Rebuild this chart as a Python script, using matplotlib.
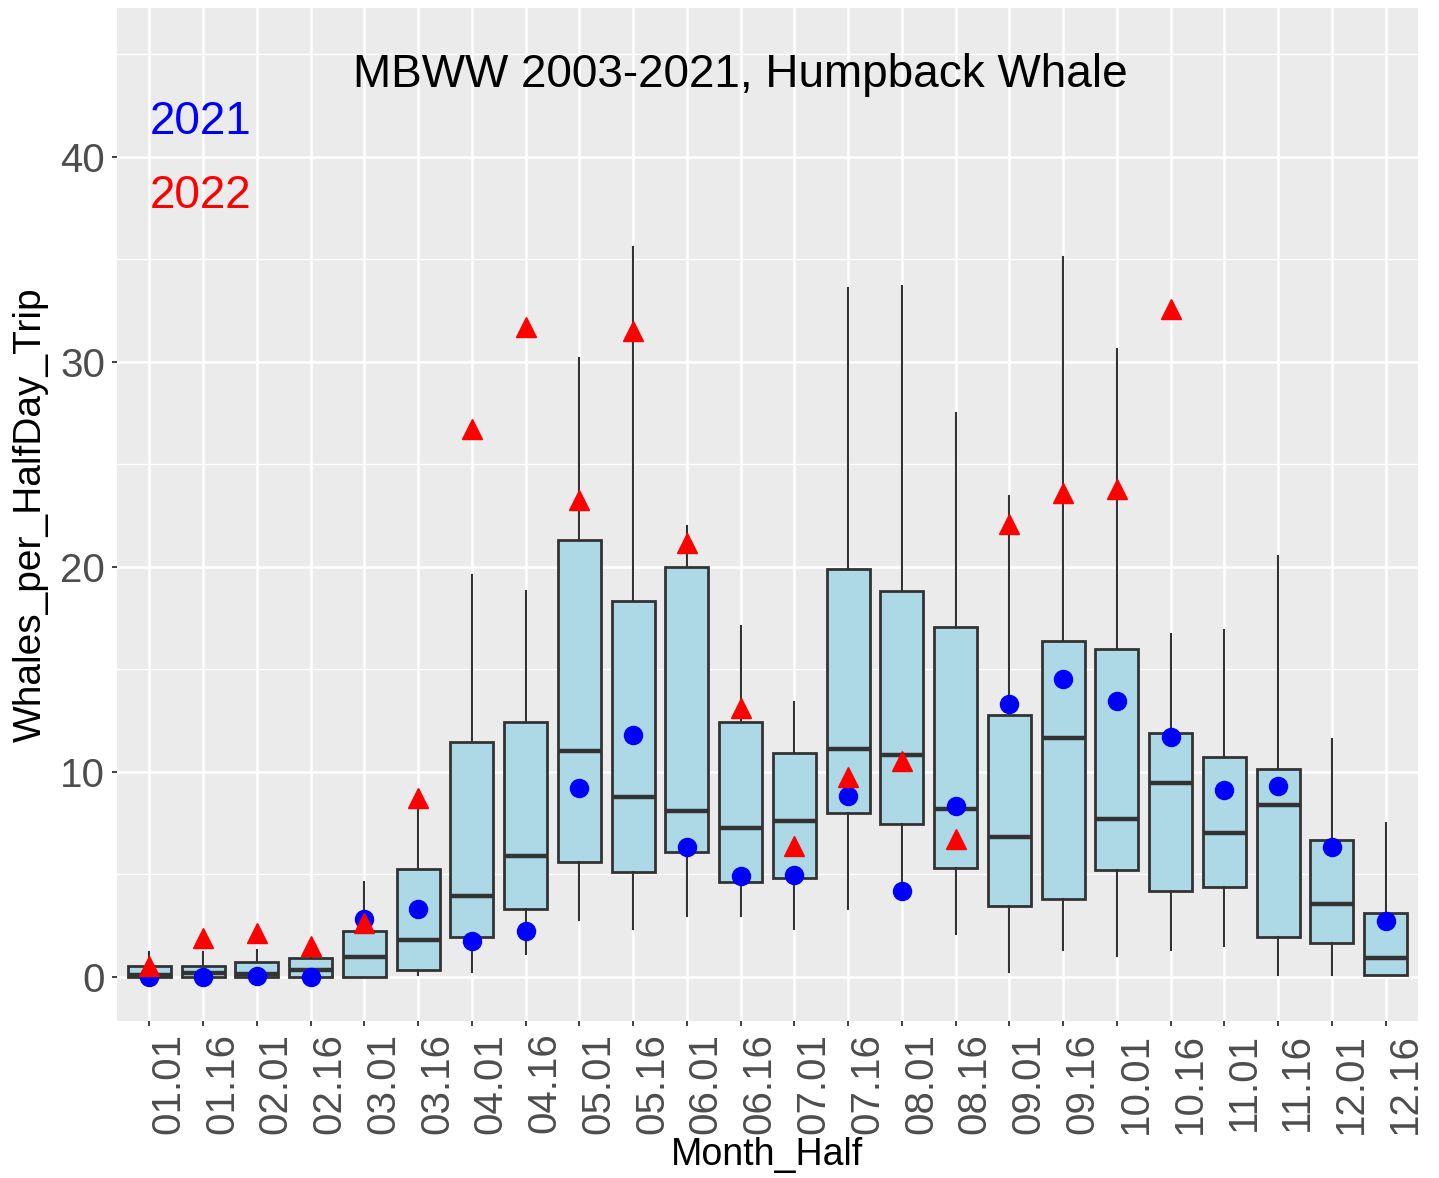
import numpy as np
import matplotlib
matplotlib.use("Agg")
import matplotlib.pyplot as plt
from matplotlib.ticker import MultipleLocator

plt.rcParams['font.family'] = ['Liberation Sans', 'DejaVu Sans']

labels = ['01.01', '01.16', '02.01', '02.16', '03.01', '03.16', '04.01', '04.16',
          '05.01', '05.16', '06.01', '06.16', '07.01', '07.16', '08.01', '08.16',
          '09.01', '09.16', '10.01', '10.16', '11.01', '11.16', '12.01', '12.16']
whislo = [0, 0, 0, 0, 0, 0.1, 0.25, 1.1, 2.75, 2.3, 2.95, 2.95, 2.3, 3.3, 4.1, 2.1,
          0.25, 1.3, 1.0, 1.3, 1.5, 0.08, 0.08, 0.1]
q1 = [0, 0, 0, 0, 0, 0.3, 1.92, 3.29, 5.6, 5.1, 6.1, 4.6, 4.83, 8.0, 7.45, 5.3,
      3.46, 3.78, 5.2, 4.18, 4.35, 1.95, 1.63, 0.1]
med = [0.1, 0.2, 0.15, 0.3, 0.95, 1.8, 3.94, 5.89, 11.0, 8.77, 8.1, 7.24, 7.6, 11.1,
       10.8, 8.2, 6.83, 11.66, 7.7, 9.43, 7.0, 8.37, 3.53, 0.93]
q3 = [0.52, 0.5, 0.7, 0.9, 2.25, 5.24, 11.43, 12.4, 21.3, 18.3, 20.0, 12.4, 10.9,
      19.9, 18.8, 17.05, 12.77, 16.35, 15.97, 11.9, 10.7, 10.15, 6.67, 3.1]
whishi = [1.2, 1.2, 1.3, 1.2, 4.6, 8.5, 19.6, 18.8, 30.2, 35.6, 22.0, 17.1, 13.4,
          33.6, 33.7, 27.5, 23.45, 35.1, 30.6, 16.7, 16.9, 20.5, 11.6, 7.48]
y2021 = [0, 0, 0.05, 0, 2.8, 3.3, 1.74, 2.23, 9.2, 11.8, 6.3, 4.9, 4.96, 8.8, 4.18,
         8.3, 13.3, 14.5, 13.45, 11.7, 9.1, 9.3, 6.3, 2.7]
y2022 = [0.5, 1.9, 2.15, 1.5, 2.6, 8.7, 26.7, 31.7, 23.25, 31.5, 21.15, 13.1, 6.35,
         9.75, 10.5, 6.7, 22.1, 23.6, 23.8, 32.55, np.nan, np.nan, np.nan, np.nan]
yticks = [0, 10, 20, 30, 40]

fig = plt.figure(figsize=(14.39, 11.78), dpi=100)
ax = fig.add_axes([117 / 1439, 1 - 1020.7 / 1178, (1418 - 117) / 1439, (1020.7 - 8) / 1178])
ax.set_facecolor('#EBEBEB')
for s in ax.spines.values():
    s.set_visible(False)

pos = np.arange(1, len(labels) + 1)
stats = [dict(whislo=a, q1=b, med=c, q3=d, whishi=e, label=l)
         for a, b, c, d, e, l in zip(whislo, q1, med, q3, whishi, labels)]
ax.bxp(stats, positions=pos, widths=0.8, patch_artist=True, showcaps=False,
       showfliers=False, manage_ticks=False,
       boxprops=dict(facecolor='#ADD8E6', edgecolor='#333333', linewidth=2.0),
       medianprops=dict(color='#333333', linewidth=3.2, solid_capstyle='butt'),
       whiskerprops=dict(color='#333333', linewidth=1.5), zorder=3)

ax.plot(pos, y2021, linestyle='none', marker='o', ms=13, color='blue', zorder=5)
ax.plot(pos, y2022, linestyle='none', marker='^', ms=14, color='red', zorder=5)

ax.set_xlim(0.4, len(labels) + 0.6)
ax.set_ylim(-2.15, 47.25)
ax.set_xticks(pos)
ax.set_xticklabels(labels, rotation=90, ha='left', va='top')
ax.set_yticks(yticks)
ax.yaxis.set_minor_locator(MultipleLocator(5))
ax.grid(which='major', color='white', linewidth=1.8, zorder=0)
ax.grid(which='minor', axis='y', color='white', linewidth=1.0, zorder=0)
ax.set_axisbelow(True)
ax.tick_params(axis='both', which='major', length=3.6, width=1.3, color='#333333',
               labelsize=29, labelcolor='#4D4D4D', pad=5)
ax.tick_params(axis='y', which='minor', length=0)

ax.set_xlabel('Month_Half', fontsize=27, color='black', labelpad=2)
ax.set_ylabel('Whales_per_HalfDay_Trip', fontsize=28, color='black', labelpad=8)

ax.text(12, 44, 'MBWW 2003-2021, Humpback Whale', fontsize=33, ha='center',
        va='center', color='black', zorder=6)
ax.text(1, 41.7, '2021', fontsize=33, ha='left', va='center', color='blue', zorder=6)
ax.text(1, 38.1, '2022', fontsize=33, ha='left', va='center', color='red', zorder=6)

fig.savefig('out.png', dpi=100)
